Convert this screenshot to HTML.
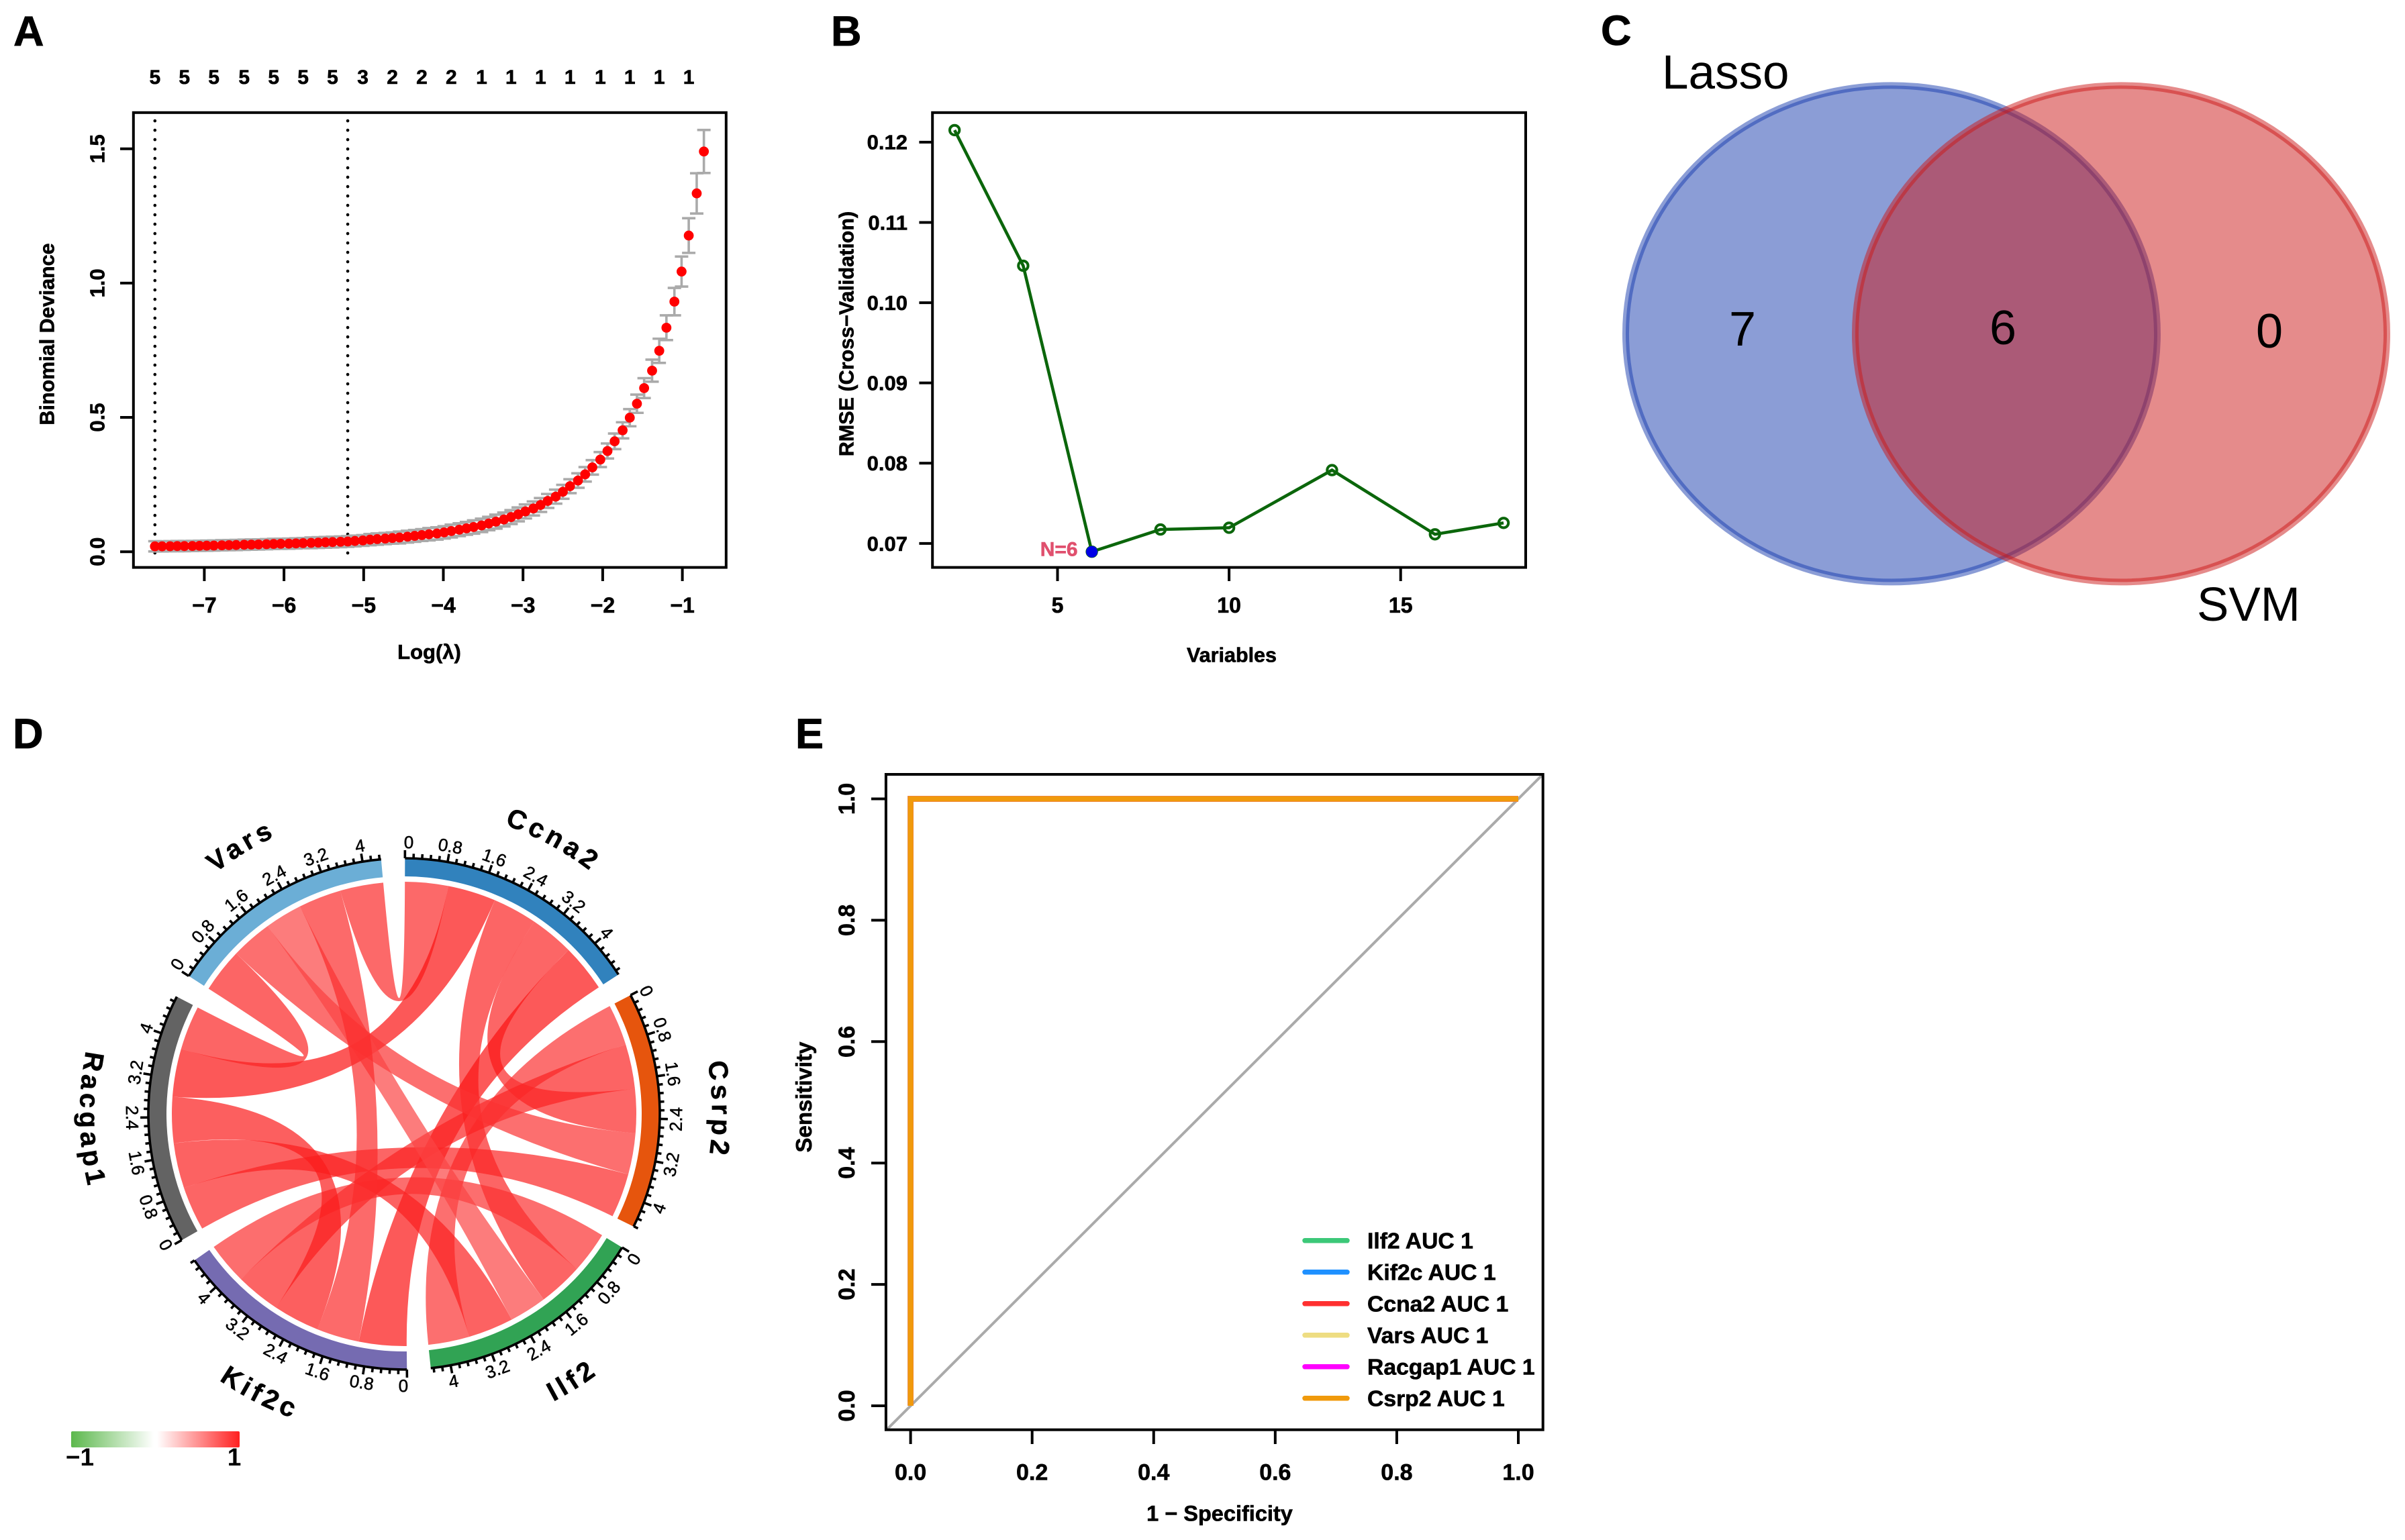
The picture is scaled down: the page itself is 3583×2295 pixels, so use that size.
<!DOCTYPE html>
<html lang="en">
<head>
<meta charset="utf-8">
<title>Feature selection figure</title>
<style>
html,body{margin:0;padding:0;background:#fff;}
svg{display:block;}
text{font-family:"Liberation Sans",Arial,sans-serif;fill:#000;}
.panel-letter{font-size:63px;font-weight:700;stroke:#000;stroke-width:.8px;}
.heavy{stroke:#000;stroke-width:.6px;}
</style>
</head>
<body>
<svg id="fig" xmlns="http://www.w3.org/2000/svg" width="3583" height="2295" viewBox="0 0 3583 2295">
<defs>
<linearGradient id="corrGrad" x1="0" x2="1" y1="0" y2="0">
<stop offset="0" stop-color="#5cb84c"/>
<stop offset="0.49" stop-color="#ffffff"/>
<stop offset="0.51" stop-color="#ffffff"/>
<stop offset="1" stop-color="#ff2020"/>
</linearGradient>
</defs>
<rect x="0" y="0" width="3583" height="2295" fill="#fff"/>

<text class="panel-letter" x="20" y="68">A</text>
<text class="panel-letter" x="1238" y="68">B</text>
<text class="panel-letter" x="2385" y="67">C</text>
<text class="panel-letter" x="19" y="1115">D</text>
<text class="panel-letter" x="1185" y="1115">E</text>

<g id="panelA"></g>
<g id="panelB"></g>

<g id="panelC">
<ellipse cx="2818" cy="497.4" rx="396" ry="370" fill="rgb(23,59,173)" fill-opacity="0.5" stroke="rgb(23,59,173)" stroke-opacity="0.5" stroke-width="10"/>
<ellipse cx="3160" cy="497.4" rx="396" ry="370" fill="rgb(203,23,23)" fill-opacity="0.5" stroke="rgb(203,23,23)" stroke-opacity="0.5" stroke-width="10"/>
<text x="2476" y="132" font-size="71">Lasso</text>
<text x="3273" y="925" font-size="71">SVM</text>
<text x="2596" y="515" font-size="72" text-anchor="middle">7</text>
<text x="2984" y="513" font-size="72" text-anchor="middle">6</text>
<text x="3381" y="518" font-size="72" text-anchor="middle">0</text>
</g>

<g id="panelD">
<g id="chordLinks"></g>
<g id="chordTracks"></g>
<g id="corrLegend">
<rect x="106" y="2133" width="251" height="24" rx="2" fill="url(#corrGrad)"/>
<text x="119" y="2184" font-size="37" font-weight="700" text-anchor="middle">−1</text>
<text x="349" y="2184" font-size="37" font-weight="700" text-anchor="middle">1</text>
</g>
</g>

<g id="panelE"></g>
</svg>

<script>
/* ---------- Panel A data ---------- */
const lassoLogLambda = [-7.62,-7.53,-7.43,-7.34,-7.25,-7.15,-7.06,-6.97,-6.88,-6.78,-6.69,-6.60,-6.50,-6.41,-6.32,-6.22,-6.13,-6.04,-5.94,-5.85,-5.76,-5.66,-5.57,-5.48,-5.39,-5.29,-5.20,-5.11,-5.01,-4.92,-4.83,-4.73,-4.64,-4.55,-4.45,-4.36,-4.27,-4.18,-4.08,-3.99,-3.90,-3.80,-3.71,-3.62,-3.52,-3.43,-3.34,-3.24,-3.15,-3.06,-2.97,-2.87,-2.78,-2.69,-2.59,-2.50,-2.41,-2.31,-2.22,-2.13,-2.03,-1.94,-1.85,-1.75,-1.66,-1.57,-1.48,-1.38,-1.29,-1.20,-1.10,-1.01,-0.92,-0.82,-0.73];
const lassoDeviance = [0.020,0.020,0.0205,0.021,0.021,0.0215,0.022,0.0225,0.023,0.024,0.0245,0.025,0.026,0.0265,0.027,0.028,0.029,0.0295,0.030,0.031,0.032,0.033,0.034,0.035,0.036,0.037,0.038,0.040,0.042,0.045,0.047,0.049,0.051,0.053,0.056,0.059,0.062,0.065,0.068,0.072,0.077,0.082,0.087,0.092,0.098,0.105,0.112,0.120,0.129,0.139,0.150,0.161,0.174,0.189,0.205,0.223,0.244,0.265,0.288,0.314,0.343,0.375,0.411,0.452,0.499,0.551,0.609,0.674,0.748,0.834,0.931,1.043,1.177,1.334,1.490];
const lassoError = [0.019,0.019,0.019,0.019,0.019,0.019,0.019,0.019,0.019,0.019,0.019,0.019,0.019,0.019,0.019,0.019,0.019,0.019,0.019,0.019,0.019,0.02,0.02,0.02,0.02,0.02,0.02,0.02,0.02,0.021,0.021,0.021,0.021,0.022,0.022,0.022,0.022,0.023,0.023,0.023,0.024,0.024,0.024,0.025,0.025,0.025,0.026,0.026,0.026,0.026,0.026,0.026,0.026,0.026,0.026,0.026,0.026,0.027,0.027,0.027,0.028,0.028,0.029,0.030,0.032,0.034,0.037,0.041,0.045,0.046,0.051,0.056,0.0645,0.075,0.080];
const lassoCountLabels = [5,5,5,5,5,5,5,3,2,2,2,1,1,1,1,1,1,1,1];
const lassoCountPositions = [-7.62,-7.25,-6.88,-6.50,-6.13,-5.76,-5.39,-5.01,-4.64,-4.27,-3.90,-3.52,-3.15,-2.78,-2.41,-2.03,-1.66,-1.29,-0.92];
const lassoXTicks = [-7,-6,-5,-4,-3,-2,-1];
const lassoYTicks = [0,0.5,1,1.5];
const lassoCutoffs = [-7.62,-5.2];

/* ---------- Panel B data ---------- */
const rfeVariables = [2,4,6,8,10,13,16,18];
const rfeRmse = [0.1215,0.1046,0.06897,0.07174,0.07196,0.07914,0.07114,0.07256];
const rfeXTicks = [5,10,15];
const rfeYTicks = [0.07,0.08,0.09,0.10,0.11,0.12];

/* ---------- Panel D data ---------- */
const chordGenes = ['Ccna2','Csrp2','Ilf2','Kif2c','Racgap1','Vars'];
const chordGeneColors = ['#3182bd','#e6550d','#31a354','#756bb1','#636363','#6baed6'];
const chordPairs = [['Ccna2','Vars'],['Ccna2','Racgap1'],['Ccna2','Ilf2'],['Ccna2','Csrp2'],['Ccna2','Kif2c'],['Csrp2','Ilf2'],['Csrp2','Kif2c'],['Csrp2','Vars'],['Csrp2','Racgap1'],['Ilf2','Kif2c'],['Ilf2','Vars'],['Ilf2','Racgap1'],['Kif2c','Vars'],['Kif2c','Racgap1'],['Racgap1','Vars']];
const chordStrength = [0.90,1.00,0.925,0.915,0.99,0.86,0.93,0.86,0.92,0.87,0.78,0.94,0.89,0.96,0.92];
const chordOrderCcna2 = ['Vars','Racgap1','Ilf2','Csrp2','Kif2c'];
const chordOrderCsrp2 = ['Ilf2','Kif2c','Ccna2','Vars','Racgap1'];
const chordOrderIlf2 = ['Kif2c','Ccna2','Vars','Racgap1','Csrp2'];
const chordOrderKif2c = ['Ccna2','Vars','Racgap1','Csrp2','Ilf2'];
const chordOrderRacgap1 = ['Csrp2','Ilf2','Kif2c','Ccna2','Vars'];
const chordOrderVars = ['Racgap1','Csrp2','Ilf2','Kif2c','Ccna2'];
const chordTickLabels = [0,0.8,1.6,2.4,3.2,4];

/* ---------- Panel E data ---------- */
const rocGenes = ['Ilf2','Kif2c','Ccna2','Vars','Racgap1','Csrp2'];
const rocAuc = [1,1,1,1,1,1];
const rocColors = ['#3cc878','#1e90ff','#ff3030','#eedd82','#ff00ff','#f09a0c'];
const rocFpr = [0,0,1];
const rocTpr = [0,1,1];
const rocTicks = [0,0.2,0.4,0.6,0.8,1];

/* ---------- helpers ---------- */
const NS = 'http://www.w3.org/2000/svg';
function make(tag, attrs, parent) {
  const e = document.createElementNS(NS, tag);
  for (const k in attrs) e.setAttribute(k, attrs[k]);
  parent.appendChild(e);
  return e;
}
function label(parent, x, y, str, size, weight, rot, anchor) {
  const e = make('text', {x: x, y: y, dy: '0.35em', 'font-size': size, 'font-weight': weight, 'text-anchor': anchor || 'middle'}, parent);
  if (rot) e.setAttribute('transform', 'rotate(' + rot + ' ' + x + ' ' + y + ')');
  if (weight === 700) e.setAttribute('class', 'heavy');
  e.textContent = str;
  return e;
}
function fmt(v, d) { return v.toFixed(d).replace('-', '\u2212'); }

/* ---------- Panel A ---------- */
(function () {
  const g = document.getElementById('panelA');
  const x = v => 304.4 + (v + 7) * 118.7;
  const y = v => 822.2 - v * 400.3;
  lassoCutoffs.forEach(c => {
    const d = make('line', {x1: x(c), x2: x(c), y1: 180, y2: 834, stroke: '#000', 'stroke-width': 4.6, 'stroke-dasharray': '0.1 13.9', 'stroke-linecap': 'round'}, g);
    
    
  });
  lassoLogLambda.forEach((l, i) => {
    const v = lassoDeviance[i], s = lassoError[i];
    const eb = make('path', {d: 'M' + x(l) + ' ' + y(v + s) + 'V' + y(v - s) + 'M' + (x(l) - 10) + ' ' + y(v + s) + 'h20M' + (x(l) - 10) + ' ' + y(v - s) + 'h20', stroke: '#aaaaaa', 'stroke-width': 3.6, fill: 'none'}, g);
    
    
  });
  lassoLogLambda.forEach((l, i) => {
    const p = make('circle', {cx: x(l), cy: y(lassoDeviance[i]), r: 7.4, fill: '#ff0000'}, g);
    
    
  });
  const box = make('rect', {x: 198.8, y: 167.8, width: 883, height: 677.8, fill: 'none', stroke: '#000', 'stroke-width': 4}, g);
  
  
  lassoXTicks.forEach(t => {
    const m = make('line', {x1: x(t), x2: x(t), y1: 845.6, y2: 866, stroke: '#000', 'stroke-width': 4}, g);
    
    
    const tl = label(g, x(t), 902, fmt(t, 0), 32, 700);
    
    
  });
  lassoYTicks.forEach(t => {
    const m = make('line', {x1: 179, x2: 198.8, y1: y(t), y2: y(t), stroke: '#000', 'stroke-width': 4}, g);
    
    
    const tl = label(g, 144.5, y(t), fmt(t, 1), 31, 700, -90);
    
    
  });
  lassoCountLabels.forEach((c, i) => {
    const tl = label(g, x(lassoCountPositions[i]), 114.5, String(c), 30, 700);
    
    
  });
  const xt = label(g, 639.5, 971, 'Log(λ)', 31, 700);
  
  
  const yt = label(g, 69.7, 498, 'Binomial Deviance', 30.5, 700, -90);
  
  
})();

/* ---------- Panel B ---------- */
(function () {
  const g = document.getElementById('panelB');
  const x = v => 1575.5 + (v - 5) * 51.12;
  const y = v => 809.9 - (v - 0.07) * 11961;
  const ln = make('polyline', {points: rfeVariables.map((v, i) => x(v) + ',' + y(rfeRmse[i])).join(' '), fill: 'none', stroke: '#0b660b', 'stroke-width': 4.6}, g);
  
  
  rfeVariables.forEach((v, i) => {
    const p = make('circle', {cx: x(v), cy: y(rfeRmse[i]), r: 7.2, fill: 'none', stroke: '#0b660b', 'stroke-width': 4}, g);
    
    
  });
  const best = rfeRmse.indexOf(Math.min.apply(null, rfeRmse));
  const bp = make('circle', {cx: x(rfeVariables[best]), cy: y(rfeRmse[best]), r: 8.5, fill: '#0000e6'}, g);
  
  
  const nl = label(g, x(rfeVariables[best]) - 21, y(rfeRmse[best]) - 4, 'N=' + rfeVariables[best], 30, 700, 0, 'end');
  nl.setAttribute('fill', '#e0506e');
  nl.style.fill = '#e0506e';
  nl.style.stroke = '#e0506e';
  
  
  const box = make('rect', {x: 1389.2, y: 167.8, width: 883.8, height: 677.8, fill: 'none', stroke: '#000', 'stroke-width': 4}, g);
  
  
  rfeXTicks.forEach(t => {
    const m = make('line', {x1: x(t), x2: x(t), y1: 845.6, y2: 866, stroke: '#000', 'stroke-width': 4}, g);
    
    
    const tl = label(g, x(t), 902, String(t), 32, 700);
    
    
  });
  rfeYTicks.forEach(t => {
    const m = make('line', {x1: 1369.4, x2: 1389.2, y1: y(t), y2: y(t), stroke: '#000', 'stroke-width': 4}, g);
    
    
    const tl = label(g, 1352, y(t), fmt(t, 2), 31, 700, 0, 'end');
    
    
  });
  const xt = label(g, 1835, 976, 'Variables', 30.5, 700);
  
  
  const yt = label(g, 1261, 497.5, 'RMSE (Cross\u2212Validation)', 30.5, 700, -90);
  
  
})();

/* ---------- Panel D ---------- */
(function () {
  const links = document.getElementById('chordLinks');
  const tracks = document.getElementById('chordTracks');
  const defs = document.querySelector('svg defs');
  const cx = 602, cy = 1660, rChord = 346, rBandIn = 354, rBandOut = 380, rAxis = 381;
  const pt = (deg, r) => {
    const a = deg * Math.PI / 180;
    return [cx + r * Math.sin(a), cy - r * Math.cos(a)];
  };
  const orders = {Ccna2: chordOrderCcna2, Csrp2: chordOrderCsrp2, Ilf2: chordOrderIlf2, Kif2c: chordOrderKif2c, Racgap1: chordOrderRacgap1, Vars: chordOrderVars};
  const strength = (a, b) => {
    for (let i = 0; i < chordPairs.length; i++) {
      const p = chordPairs[i];
      if ((p[0] === a && p[1] === b) || (p[0] === b && p[1] === a)) return chordStrength[i];
    }
    return 0;
  };
  const totals = chordGenes.map(g => orders[g].reduce((s, o) => s + strength(g, o), 0));
  const gap = 5.35;
  const unit = (360 - gap * chordGenes.length) / totals.reduce((a, b) => a + b, 0);
  const segs = {};
  let angle = 0.2;
  const arcs = chordGenes.map((g, i) => {
    const start = angle;
    segs[g] = {};
    orders[g].forEach(o => {
      const w = strength(g, o) * unit;
      segs[g][o] = [angle, angle + w];
      angle += w;
    });
    const end = angle;
    angle += gap;
    return {gene: g, start: start, end: end, total: totals[i]};
  });
  chordPairs.forEach((p, i) => {
    const a = segs[p[0]][p[1]], b = segs[p[1]][p[0]];
    const a0 = pt(a[0], rChord), a1 = pt(a[1], rChord), b0 = pt(b[0], rChord), b1 = pt(b[1], rChord);
    const d = 'M' + a0 + 'A' + rChord + ' ' + rChord + ' 0 0 1 ' + a1 + 'Q' + cx + ' ' + cy + ' ' + b0 + 'A' + rChord + ' ' + rChord + ' 0 0 1 ' + b1 + 'Q' + cx + ' ' + cy + ' ' + a0 + 'Z';
    const gv = Math.round(255 - 238 * chordStrength[i]);
    const l = make('path', {d: d, fill: 'rgb(251,' + gv + ',' + gv + ')', 'fill-opacity': 0.7}, links);
    
    
  });
  arcs.forEach((s, i) => {
    const key = s.gene.toLowerCase();
    const o0 = pt(s.start, rBandOut), o1 = pt(s.end, rBandOut), n1 = pt(s.end, rBandIn), n0 = pt(s.start, rBandIn);
    const band = make('path', {d: 'M' + o0 + 'A' + rBandOut + ' ' + rBandOut + ' 0 0 1 ' + o1 + 'L' + n1 + 'A' + rBandIn + ' ' + rBandIn + ' 0 0 0 ' + n0 + 'Z', fill: chordGeneColors[i]}, tracks);
    
    
    const a0 = pt(s.start, rAxis), a1 = pt(s.end, rAxis);
    const ax = make('path', {d: 'M' + a0 + 'A' + rAxis + ' ' + rAxis + ' 0 0 1 ' + a1, fill: 'none', stroke: '#000', 'stroke-width': 3.6}, tracks);
    
    
    /* 4 minor intervals between each 0.8 major tick */
    let dTicks = '';
    for (let k = 0; k * 0.16 <= s.total + 1e-6; k++) {
      const th = s.start + k * 0.16 * unit;
      const p0 = pt(th, rAxis), p1 = pt(th, rAxis + (k % 5 === 0 ? 12 : 7));
      dTicks += 'M' + p0 + 'L' + p1;
    }
    const tk = make('path', {d: dTicks, stroke: '#000', 'stroke-width': 3.6, fill: 'none'}, tracks);
    
    
    chordTickLabels.forEach(v => {
      const th = s.start + v * unit + (v === 0 ? 0.8 : 0);
      const p = pt(th, 405);
      const nth = ((th % 360) + 360) % 360;
      const rot = (nth > 90 && nth < 270) ? nth - 180 : nth;
      const tl = label(tracks, p[0], p[1], String(v), 26, 400, rot);
      tl.style.stroke = '#000';
      tl.style.strokeWidth = '0.5px';
      
      
    });
    const mid = (s.start + s.end) / 2;
    const lower = mid > 90 && mid < 270;
    const side = (mid > 70 && mid < 110) ? 3 : 0;
    const rName = (lower ? 483 : 456) + side;
    const from = lower ? mid + 40 : mid - 40, to = lower ? mid - 40 : mid + 40;
    const pf = pt(from, rName), pe = pt(to, rName);
    const pid = 'namePath' + i;
    make('path', {id: pid, d: 'M' + pf + 'A' + rName + ' ' + rName + ' 0 0 ' + (lower ? 0 : 1) + ' ' + pe, fill: 'none'}, defs);
    const nm = make('text', {'font-size': 40, 'font-weight': 700, 'letter-spacing': 6, 'text-anchor': 'middle', class: 'heavy'}, tracks);
    const tp = make('textPath', {startOffset: '50%', href: '#' + pid}, nm);
    tp.textContent = s.gene;
    
    
  });
})();

/* ---------- Panel E ---------- */
(function () {
  const g = document.getElementById('panelE');
  const x = v => 1356.6 + v * 905.4;
  const y = v => 2095 - v * 904.5;
  const clipId = 'rocClip';
  const defs = document.querySelector('svg defs');
  const cp = make('clipPath', {id: clipId}, defs);
  make('rect', {x: 1320, y: 1154, width: 979, height: 977}, cp);
  const diag = make('line', {x1: x(-0.05), y1: y(-0.05), x2: x(1.05), y2: y(1.05), stroke: '#aaaaaa', 'stroke-width': 4, 'clip-path': 'url(#' + clipId + ')'}, g);
  
  
  rocGenes.forEach((name, i) => {
    const c = make('polyline', {points: rocFpr.map((f, k) => x(f) + ',' + y(rocTpr[k])).join(' '), fill: 'none', stroke: rocColors[i], 'stroke-width': 8.5}, g);
    
    
  });
  const box = make('rect', {x: 1319.9, y: 1154, width: 978.8, height: 976.7, fill: 'none', stroke: '#000', 'stroke-width': 4}, g);
  
  
  rocTicks.forEach(t => {
    const mx = make('line', {x1: x(t), x2: x(t), y1: 2130.7, y2: 2152, stroke: '#000', 'stroke-width': 4}, g);
    
    
    const lx = label(g, x(t), 2193.4, t.toFixed(1), 34, 700);
    
    
    const my = make('line', {x1: 1298, x2: 1319.9, y1: y(t), y2: y(t), stroke: '#000', 'stroke-width': 4}, g);
    
    
    const ly = label(g, 1261, y(t), t.toFixed(1), 34, 700, -90);
    
    
  });
  rocGenes.forEach((name, i) => {
    const ry = 1848.8 + i * 47;
    const s = make('line', {x1: 1944, x2: 2007, y1: ry, y2: ry, stroke: rocColors[i], 'stroke-width': 7.5, 'stroke-linecap': 'round'}, g);
    
    
    const tl = label(g, 2037, ry, name + ' AUC ' + rocAuc[i], 33.7, 700, 0, 'start');
    
    
  });
  const xt = label(g, 1817, 2255, '1 \u2212 Specificity', 32.5, 700);
  
  
  const yt = label(g, 1197.4, 1635, 'Sensitivity', 33, 700, -90);
  
  
})();
</script>
</body>
</html>
